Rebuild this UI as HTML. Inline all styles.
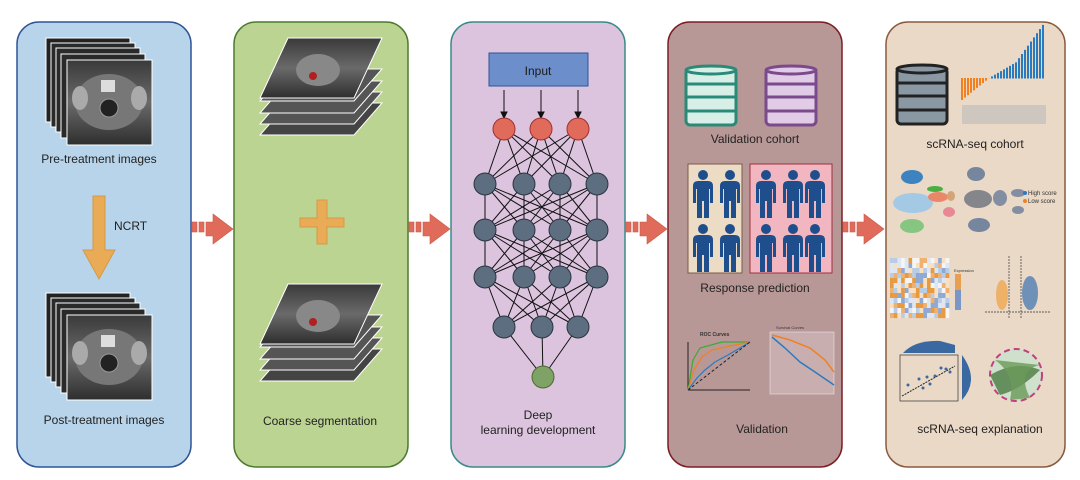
<!DOCTYPE html>
<html><head><meta charset="utf-8"><style>
body{margin:0;background:#fff;width:1080px;height:475px;overflow:hidden;font-family:"Liberation Sans",sans-serif}
</style></head><body>
<svg id="s" width="1080" height="475" viewBox="0 0 1080 475" xmlns="http://www.w3.org/2000/svg" font-family="Liberation Sans, sans-serif">
<defs>
<linearGradient id="mri" x1="0" y1="0" x2="0" y2="1"><stop offset="0" stop-color="#3a3a3a"/><stop offset="0.5" stop-color="#6a6a6a"/><stop offset="1" stop-color="#2e2e2e"/></linearGradient>
</defs>
<!-- panels -->
<rect x="17" y="22" width="174" height="445" rx="22" fill="#b8d4ea" stroke="#2f5597" stroke-width="1.5"/>
<rect x="234" y="22" width="174" height="445" rx="22" fill="#bcd492" stroke="#4d7a2e" stroke-width="1.5"/>
<rect x="451" y="22" width="174" height="445" rx="22" fill="#dcc4de" stroke="#3a8a88" stroke-width="1.5"/>
<rect x="668" y="22" width="174" height="445" rx="22" fill="#b89896" stroke="#7a1e24" stroke-width="1.5"/>
<rect x="886" y="22" width="179" height="445" rx="22" fill="#ead9c6" stroke="#8a5a3e" stroke-width="1.5"/>
<!-- arrows -->
<g fill="#e06b5b" stroke="#c85a4a" stroke-width="0.6">
<g id="arr"><rect x="192" y="222" width="5" height="10"/><rect x="199" y="222" width="5" height="10"/><polygon points="206,222 213,222 213,214 233,229 213,244 213,236 206,236"/></g>
<use href="#arr" x="217"/><use href="#arr" x="434"/><use href="#arr" x="651"/>
</g>
<!-- panel1 stacks -->
<g id="stack1">
<rect x="46" y="38" width="84" height="84" fill="#222" stroke="#fff"/>
<rect x="51" y="43" width="84" height="84" fill="#2a2a2a" stroke="#fff"/>
<rect x="56" y="48" width="84" height="84" fill="#2a2a2a" stroke="#fff"/>
<rect x="61" y="54" width="84" height="84" fill="#2a2a2a" stroke="#fff"/>
<rect x="67" y="60" width="85" height="85" fill="url(#mri)" stroke="#fff"/>
<ellipse cx="109" cy="102" rx="34" ry="28" fill="#777"/>
<ellipse cx="80" cy="98" rx="8" ry="12" fill="#aaa"/><ellipse cx="139" cy="98" rx="8" ry="12" fill="#aaa"/>
<rect x="101" y="80" width="14" height="12" fill="#ddd"/>
<circle cx="109" cy="108" r="9" fill="#222" stroke="#999"/>
</g>
<use href="#stack1" y="255"/>
<text x="99" y="163" font-size="12" text-anchor="middle" fill="#222">Pre-treatment images</text>
<text x="104" y="424" font-size="12" text-anchor="middle" fill="#222">Post-treatment images</text>
<polygon points="93,196 105,196 105,250 115,250 99,279 83,250 93,250" fill="#e9ab56" stroke="#d49a46"/>
<text x="114" y="230" font-size="12" fill="#222">NCRT</text>
<!-- panel2 stacks -->
<g id="stack2" stroke="#fff" stroke-width="1">
<polygon points="260,135 354,135 382,103 288,103" fill="#444"/>
<polygon points="260,124 354,124 382,92 288,92" fill="#555"/>
<polygon points="260,113 354,113 382,81 288,81" fill="#555"/>
<polygon points="260,101 354,101 382,69 288,69" fill="#555"/>
<polygon points="260,98 354,98 382,38 288,38" fill="url(#mri)"/>
<ellipse cx="318" cy="70" rx="22" ry="16" fill="#888" stroke="none"/>
<circle cx="313" cy="76" r="4" fill="#b02020" stroke="none"/>
</g>
<use href="#stack2" y="246"/>
<rect x="300" y="218" width="44" height="9" fill="#eaab56" stroke="#d49a46"/>
<rect x="317" y="200" width="10" height="44" fill="#eaab56" stroke="#d49a46"/>
<rect x="301" y="219" width="42" height="7" fill="#eaab56"/>
<text x="320" y="425" font-size="12" text-anchor="middle" fill="#222">Coarse segmentation</text>
<!-- panel3 NN -->
<g id="nn" stroke="#111" stroke-width="1"></g>
<rect x="489" y="53" width="99" height="33" fill="#6c8fcb" stroke="#2f5597"/>
<text x="538" y="75" font-size="12" text-anchor="middle" fill="#1a1a1a">Input</text>
<text x="538" y="419" font-size="12" text-anchor="middle" fill="#222">Deep</text>
<text x="538" y="434" font-size="12" text-anchor="middle" fill="#222">learning development</text>
<!-- panel4 -->
<g id="db" fill="#d8efe8" stroke="#2a8a78" stroke-width="3">
<rect x="686" y="69" width="50" height="56" rx="4"/>
<ellipse cx="711" cy="70" rx="25" ry="4"/>
<line x1="686" y1="84" x2="736" y2="84"/><line x1="686" y1="97" x2="736" y2="97"/><line x1="686" y1="111" x2="736" y2="111"/>
</g>
<g fill="#e2cbe6" stroke="#7a4a8c" stroke-width="3">
<rect x="766" y="69" width="50" height="56" rx="4"/>
<ellipse cx="791" cy="70" rx="25" ry="4"/>
<line x1="766" y1="84" x2="816" y2="84"/><line x1="766" y1="97" x2="816" y2="97"/><line x1="766" y1="111" x2="816" y2="111"/>
</g>
<text x="755" y="143" font-size="12" text-anchor="middle" fill="#222">Validation cohort</text>
<rect x="688" y="164" width="54" height="109" fill="#ecdcc6" stroke="#7a5a4a"/>
<rect x="750" y="164" width="82" height="109" fill="#f1b6c0" stroke="#a03040"/>
<g id="ppl" fill="#1f4e8c"></g>
<text x="755" y="292" font-size="12" text-anchor="middle" fill="#222">Response prediction</text>
<!-- ROC -->
<g font-size="4" fill="#333">
<text x="700" y="336" font-size="5" font-weight="bold">ROC Curves</text>
<line x1="688" y1="342" x2="688" y2="390" stroke="#222"/><line x1="688" y1="390" x2="750" y2="390" stroke="#222"/>
<polyline points="688,390 693,360 700,348 722,342 750,342" fill="none" stroke="#3aaa35" stroke-width="1.2"/>
<polyline points="688,390 694,370 702,357 712,350 730,346 750,342" fill="none" stroke="#f08020" stroke-width="1.2"/>
<polyline points="688,390 697,378 705,370 715,362 728,355 740,348 750,342" fill="none" stroke="#2a7ac0" stroke-width="1.2"/>
<line x1="688" y1="390" x2="750" y2="342" stroke="#222" stroke-dasharray="3,2"/>
<text x="776" y="329" font-size="4">Survival Curves</text>
<rect x="770" y="332" width="64" height="62" fill="#c9aeb0" stroke="#eee" stroke-width="0.5"/>
<polyline points="772,335 790,340 810,348 825,360 834,372" fill="none" stroke="#f08020" stroke-width="1.5"/>
<polyline points="772,337 785,348 800,362 815,372 834,385" fill="none" stroke="#2a7ac0" stroke-width="1.5"/>
</g>
<text x="762" y="433" font-size="12" text-anchor="middle" fill="#222">Validation</text>
<!-- panel5 -->
<g fill="#8a98a4" stroke="#222" stroke-width="3">
<rect x="897" y="68" width="50" height="56" rx="4"/>
<ellipse cx="922" cy="69" rx="25" ry="4"/>
<line x1="897" y1="83" x2="947" y2="83"/><line x1="897" y1="96" x2="947" y2="96"/><line x1="897" y1="110" x2="947" y2="110"/>
</g>
<g id="bars"></g>
<rect x="962" y="105" width="84" height="19" fill="#bbb" opacity="0.6"/>
<text x="975" y="148" font-size="12" text-anchor="middle" fill="#222">scRNA-seq cohort</text>
<!-- umap -->
<g opacity="0.9">
<ellipse cx="912" cy="177" rx="11" ry="7" fill="#2a7ac0"/>
<ellipse cx="913" cy="203" rx="20" ry="10" fill="#9dc8e8"/>
<ellipse cx="938" cy="197" rx="10" ry="5" fill="#e88060"/>
<ellipse cx="935" cy="189" rx="8" ry="3" fill="#3aaa35"/>
<ellipse cx="912" cy="226" rx="12" ry="7" fill="#7cc47a"/>
<ellipse cx="949" cy="212" rx="6" ry="5" fill="#e88090"/>
<ellipse cx="951" cy="196" rx="4" ry="5" fill="#d0a070"/>
<ellipse cx="976" cy="174" rx="9" ry="7" fill="#6a7e9a"/>
<ellipse cx="978" cy="199" rx="14" ry="9" fill="#7a7e86"/>
<ellipse cx="1000" cy="198" rx="7" ry="8" fill="#7a86a0"/>
<ellipse cx="979" cy="225" rx="11" ry="7" fill="#6a7e9a"/>
<ellipse cx="1018" cy="210" rx="6" ry="4" fill="#7a86a0"/>
<ellipse cx="1018" cy="193" rx="7" ry="4" fill="#7a86a0"/>
</g>
<circle cx="1025" cy="193" r="2" fill="#2a7ac0"/><text x="1028" y="195" font-size="6" fill="#333">High score</text>
<circle cx="1025" cy="201" r="2" fill="#f08020"/><text x="1028" y="203" font-size="6" fill="#333">Low score</text>
<!-- heatmap -->
<g id="heat"></g>
<rect x="955" y="274" width="6" height="36" fill="#7a96c4"/><rect x="955" y="274" width="6" height="16" fill="#e8a050"/>
<text x="954" y="272" font-size="4" fill="#333">Expression</text>
<line x1="985" y1="312" x2="1050" y2="312" stroke="#333" stroke-dasharray="2,1" stroke-width="0.7"/>
<line x1="1009" y1="256" x2="1009" y2="318" stroke="#333" stroke-dasharray="2,1" stroke-width="0.7"/>
<line x1="1021" y1="256" x2="1021" y2="318" stroke="#333" stroke-dasharray="2,1" stroke-width="0.7"/>
<ellipse cx="1002" cy="295" rx="6" ry="15" fill="#f0a040" opacity="0.7"/>
<ellipse cx="1030" cy="293" rx="8" ry="17" fill="#3a70b0" opacity="0.7"/>
<!-- scatter -->
<path d="M903,353 Q915,340 940,341 L955,345 L955,353 Z" fill="#3a68a0"/>
<path d="M962,355 Q980,380 962,400 Z" fill="#3a68a0"/>
<rect x="900" y="355" width="58" height="46" fill="#ead9c6" stroke="#333" stroke-width="0.7"/>
<line x1="902" y1="396" x2="955" y2="366" stroke="#222" stroke-dasharray="2,1"/>
<g fill="#3a68a0"><circle cx="908" cy="385" r="1.5"/><circle cx="919" cy="379" r="1.5"/><circle cx="927" cy="377" r="1.5"/><circle cx="935" cy="376" r="1.5"/><circle cx="941" cy="368" r="1.5"/><circle cx="946" cy="369" r="1.5"/><circle cx="950" cy="372" r="1.5"/><circle cx="923" cy="388" r="1.5"/><circle cx="930" cy="384" r="1.5"/></g>
<circle cx="1016" cy="375" r="26" fill="#cfe0cc" stroke="#c04080" stroke-width="2" stroke-dasharray="6,4"/>
<path d="M990,375 Q1016,360 1040,370 Q1020,390 1000,395 Z" fill="#4a7a40" opacity="0.8"/>
<path d="M995,360 Q1016,375 1010,400 L1030,398 Q1016,370 1040,365 Z" fill="#6a9a5a" opacity="0.8"/>
<text x="980" y="433" font-size="12" text-anchor="middle" fill="#222">scRNA-seq explanation</text>
</svg>
<script>
const NS="http://www.w3.org/2000/svg",s=document.getElementById('s');
function el(p,t,a){const e=document.createElementNS(NS,t);for(const k in a)e.setAttribute(k,a[k]);p.appendChild(e);return e;}
const nn=document.getElementById('nn');
const L=[[[504,129],[541,129],[578,129]],[[485,184],[524,184],[560,184],[597,184]],[[485,230],[524,230],[560,230],[597,230]],[[485,277],[524,277],[560,277],[597,277]],[[504,327],[542,327],[578,327]],[[543,377]]];
for(let i=0;i<L.length-1;i++)for(const a of L[i])for(const b of L[i+1])el(nn,'line',{x1:a[0],y1:a[1],x2:b[0],y2:b[1]});
for(const x of [504,541,578]){el(nn,'line',{x1:x,y1:90,x2:x,y2:114});el(nn,'polygon',{points:`${x-3},112 ${x+3},112 ${x},118`,fill:'#111'});}
L.forEach((l,i)=>l.forEach(p=>el(nn,'circle',{cx:p[0],cy:p[1],r:11,fill:i==0?'#e06b5b':i==5?'#7fa266':'#5d6e80',stroke:i==0?'#a03030':i==5?'#4a6a30':'#2a3440'})));
const pp=document.getElementById('ppl');
function person(x,y){el(pp,'circle',{cx:x,cy:y,r:5});el(pp,'path',{d:`M${x-10},${y+28} L${x-10},${y+11} Q${x-10},${y+6} ${x-5},${y+6} L${x+5},${y+6} Q${x+10},${y+6} ${x+10},${y+11} L${x+10},${y+28} L${x+7},${y+28} L${x+7},${y+14} L${x+6},${y+14} L${x+6},${y+43} L${x+1},${y+43} L${x+1},${y+26} L${x-1},${y+26} L${x-1},${y+43} L${x-6},${y+43} L${x-6},${y+14} L${x-7},${y+14} L${x-7},${y+28} Z`});}
[[703,175],[730,175],[703,229],[730,229],[766,175],[793,175],[815,175],[766,229],[793,229],[815,229]].forEach(p=>person(p[0],p[1]));
const bars=document.getElementById('bars');
for(let i=0;i<28;i++){const x=961+i*3,v=-10+i*1.1+(i>18?(i-18)*1.5:0);const base=78;
if(v<0)el(bars,'rect',{x,y:base,width:2,height:-v*2.2,fill:'#f08020'});else el(bars,'rect',{x,y:base-v*1.6,width:2,height:v*1.6+0.5,fill:'#2a7ac0'});}
const h=document.getElementById('heat');const cols=['#f0b070','#fbe0c0','#dde6f2','#b8cce6','#8eaad4','#f5f5f5','#e89a40'];
let seed=7;function r(){seed=(seed*9301+49271)%233280;return seed/233280;}
for(let i=0;i<12;i++)for(let j=0;j<16;j++)el(h,'rect',{x:890+j*3.7,y:258+i*5,width:3.8,height:5.1,fill:cols[Math.floor(r()*cols.length)]});
</script>
</body></html>
